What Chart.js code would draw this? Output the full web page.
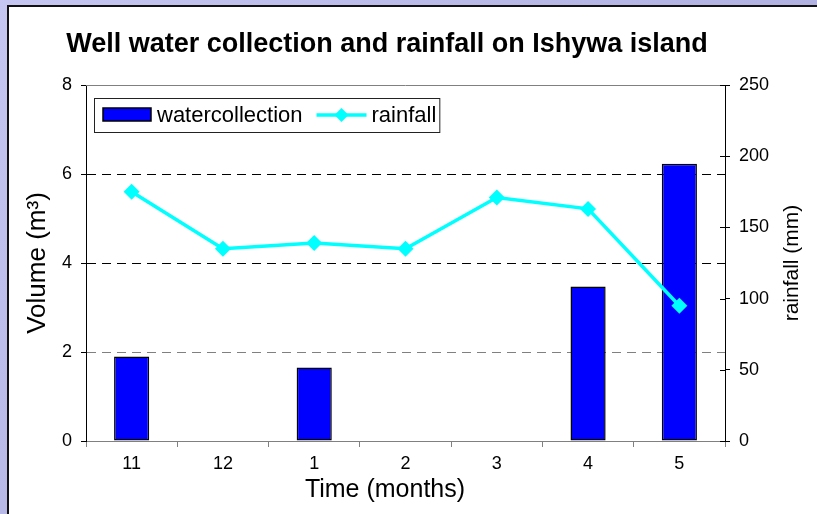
<!DOCTYPE html>
<html lang="en">
<head>
  <meta charset="UTF-8" />
  <title>Well water collection and rainfall</title>
  <script src="https://cdn.jsdelivr.net/npm/chart.js"></script>
  <style>
    html, body { margin: 0; padding: 0; }
    body {
      width: 817px; height: 514px; overflow: hidden; position: relative;
      background: linear-gradient(135deg, #c6c6f2 0%, #a4a4d8 100%);
    }
    #panel {
      position: absolute; left: 7px; top: 5px; right: 0; bottom: 0;
      background: #fff; border-left: 2px solid #111; border-top: 2px solid #111;
    }
    #chart { position: absolute; left: 0; top: 0; }
  </style>
</head>
<body>

<div id="panel"></div>
<canvas id="chart" width="817" height="514"></canvas>

<script>
  const months = ['11', '12', '1', '2', '3', '4', '5'];
  const waterCollection = [1.9, 0, 1.65, 0, 0, 3.47, 6.23];
  const rainfall = [175, 135, 139, 135, 171, 163, 95];
  const volumeTicks = [0, 2, 4, 6, 8];
  const rainTicks = [0, 50, 100, 150, 200, 250];

  const FONT = '"Liberation Sans", Arial, sans-serif';
  Chart.defaults.font.family = FONT;
  Chart.defaults.color = '#000';

  // title, right axis title, x axis title and the boxed legend are drawn here
  const extras = {
    id: 'extras',
    afterDraw(chart) {
      const ctx = chart.ctx;
      const area = chart.chartArea;
      ctx.save();

      // top edge of the plot
      ctx.strokeStyle = '#808080';
      ctx.lineWidth = 1;
      ctx.beginPath();
      ctx.moveTo(area.left, area.top + 0.5);
      ctx.lineTo(area.right, area.top + 0.5);
      ctx.stroke();

      // right axis ticks also cross into the plot
      const r = chart.scales.y1;
      ctx.strokeStyle = '#000';
      r.ticks.forEach(t => {
        const py = Math.round(r.getPixelForValue(t.value)) + 0.5;
        ctx.beginPath();
        ctx.moveTo(area.right - 5, py);
        ctx.lineTo(area.right, py);
        ctx.stroke();
      });

      ctx.fillStyle = '#000';
      ctx.textBaseline = 'middle';
      ctx.textAlign = 'center';

      ctx.font = 'bold 27px ' + FONT;
      ctx.fillText('Well water collection and rainfall on Ishywa island', 387, 45);

      ctx.font = '25px ' + FONT;
      ctx.fillText('Time (months)', 385, 490);

      ctx.save();
      ctx.translate(792, (area.top + area.bottom) / 2);
      ctx.rotate(-Math.PI / 2);
      ctx.font = '21px ' + FONT;
      ctx.fillText('rainfall (mm)', 0, 0);
      ctx.restore();

      // legend
      const sets = chart.data.datasets;
      ctx.font = '22px ' + FONT;
      ctx.textAlign = 'left';
      const lx = area.left + 8, ly = area.top + 13, lh = 34;
      const w1 = ctx.measureText(sets[0].label).width;
      const w2 = ctx.measureText(sets[1].label).width;
      const boxW = 63 + w1 + 14 + 50 + 5 + w2 + 3;

      ctx.fillStyle = '#fff';
      ctx.fillRect(lx, ly, boxW, lh);
      ctx.strokeStyle = '#222';
      ctx.lineWidth = 1;
      ctx.strokeRect(lx + 0.5, ly + 0.5, boxW, lh);

      ctx.fillStyle = sets[0].backgroundColor;
      ctx.fillRect(lx + 9, ly + 10, 48, 13);
      ctx.strokeStyle = '#000';
      ctx.lineWidth = 1.5;
      ctx.strokeRect(lx + 9, ly + 10, 48, 13);

      ctx.fillStyle = '#000';
      ctx.fillText(sets[0].label, lx + 63, ly + lh / 2 + 1);

      let x = lx + 63 + w1 + 14;
      const y = ly + lh / 2;
      ctx.strokeStyle = sets[1].borderColor;
      ctx.lineWidth = 3.5;
      ctx.beginPath();
      ctx.moveTo(x, y);
      ctx.lineTo(x + 50, y);
      ctx.stroke();
      ctx.fillStyle = sets[1].borderColor;
      ctx.beginPath();
      ctx.moveTo(x + 25, y - 7);
      ctx.lineTo(x + 32, y);
      ctx.lineTo(x + 25, y + 7);
      ctx.lineTo(x + 18, y);
      ctx.closePath();
      ctx.fill();

      ctx.fillStyle = '#000';
      ctx.fillText(sets[1].label, x + 55, ly + lh / 2 + 1);

      ctx.restore();
    }
  };

  new Chart(document.getElementById('chart'), {
    type: 'bar',
    data: {
      labels: months,
      datasets: [
        {
          type: 'bar',
          label: 'watercollection',
          data: waterCollection,
          backgroundColor: '#0000FF',
          borderColor: '#000',
          borderWidth: 1.5,
          borderSkipped: false,
          barPercentage: 0.385,
          categoryPercentage: 1,
          yAxisID: 'y',
          order: 1
        },
        {
          type: 'line',
          label: 'rainfall',
          data: rainfall,
          borderColor: '#00FFFF',
          backgroundColor: '#00FFFF',
          borderWidth: 3.5,
          tension: 0,
          pointStyle: 'rectRot',
          pointRadius: 8,
          pointBorderWidth: 0,
          pointBackgroundColor: '#00FFFF',
          yAxisID: 'y1',
          order: 0
        }
      ]
    },
    options: {
      responsive: false,
      animation: false,
      layout: { padding: { top: 85, left: 0, right: 0, bottom: 0 } },
      plugins: {
        legend: { display: false },
        title: { display: false },
        tooltip: { enabled: false }
      },
      scales: {
        x: {
          grid: { drawOnChartArea: false, offset: true, tickLength: 6, color: '#808080' },
          border: { color: '#808080' },
          ticks: { font: { size: 18 }, padding: 6 },
          afterFit(s) { s.height = 73; }
        },
        y: {
          position: 'left',
          min: volumeTicks[0],
          max: volumeTicks[volumeTicks.length - 1],
          ticks: { stepSize: volumeTicks[1] - volumeTicks[0], font: { size: 18 }, padding: 9 },
          grid: {
            color: c => (c.tick.value === volumeTicks[0] || c.tick.value === volumeTicks[volumeTicks.length - 1]) ? 'rgba(0,0,0,0)' : (c.tick.value === 2 ? '#808080' : '#000'),
            tickColor: '#000',
            tickLength: 5
          },
          border: { color: '#000', dash: [9, 6] },
          title: { display: true, text: 'Volume (m³)', font: { size: 26 }, padding: { top: 22, bottom: 0 } },
          afterFit(s) { s.width = 86; }
        },
        y1: {
          position: 'right',
          min: rainTicks[0],
          max: rainTicks[rainTicks.length - 1],
          ticks: { stepSize: rainTicks[1] - rainTicks[0], font: { size: 18 }, padding: 9 },
          grid: { drawOnChartArea: false, tickLength: 5, color: '#000' },
          border: { color: '#000' },
          afterFit(s) { s.width = 92; }
        }
      }
    },
    plugins: [extras]
  });
</script>

</body>
</html>
